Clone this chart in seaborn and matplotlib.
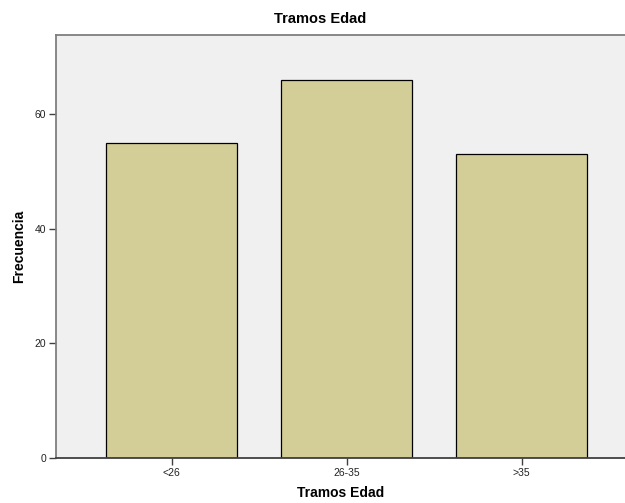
import pandas as pd
import seaborn as sns
import matplotlib.pyplot as plt

categories = ['<26', '26-35', '>35']
counts = [55, 66, 53]
y_ticks = [0, 20, 40, 60]

bar_color = '#D3CE97'
panel_color = '#F0F0F0'
frame_color = '#7F7F7F'

sns.set_style('white')
plt.rcParams['font.family'] = ['Liberation Sans', 'DejaVu Sans']
plt.rcParams['text.color'] = 'black'
plt.rcParams['axes.labelcolor'] = 'black'

data = pd.DataFrame({'Tramos Edad': categories, 'Frecuencia': counts})

fig = plt.figure(figsize=(6.25, 5.03), dpi=100)
ax = fig.add_axes([0.0896, 0.0895, 0.9104, 0.8410])
ax.set_facecolor(panel_color)

sns.barplot(data=data, x='Tramos Edad', y='Frecuencia', color=bar_color,
            edgecolor='black', linewidth=0.9, width=0.75, saturation=1, ax=ax)

ax.set_xlim(-0.66, 2.59)
ax.set_ylim(0, 73.8)
ax.set_yticks(y_ticks)

for side in ['left', 'top', 'bottom']:
    ax.spines[side].set_color(frame_color)
    ax.spines[side].set_linewidth(1.3)
ax.spines['right'].set_visible(False)
ax.spines['bottom'].set_color('#404040')

ax.tick_params(axis='both', direction='out', length=5, width=1, color='#404040',
               labelsize=7.5, labelcolor='#222222', bottom=True, left=True, pad=2)

ax.set_xlabel('Tramos Edad', fontsize=10, fontweight='bold', labelpad=6)
ax.set_ylabel('Frecuencia', fontsize=10, fontweight='bold', labelpad=6)

fig.text(0.512, 0.963, 'Tramos Edad', ha='center', va='center',
         fontsize=10.5, fontweight='bold')

fig.savefig('out.png', dpi=100)
